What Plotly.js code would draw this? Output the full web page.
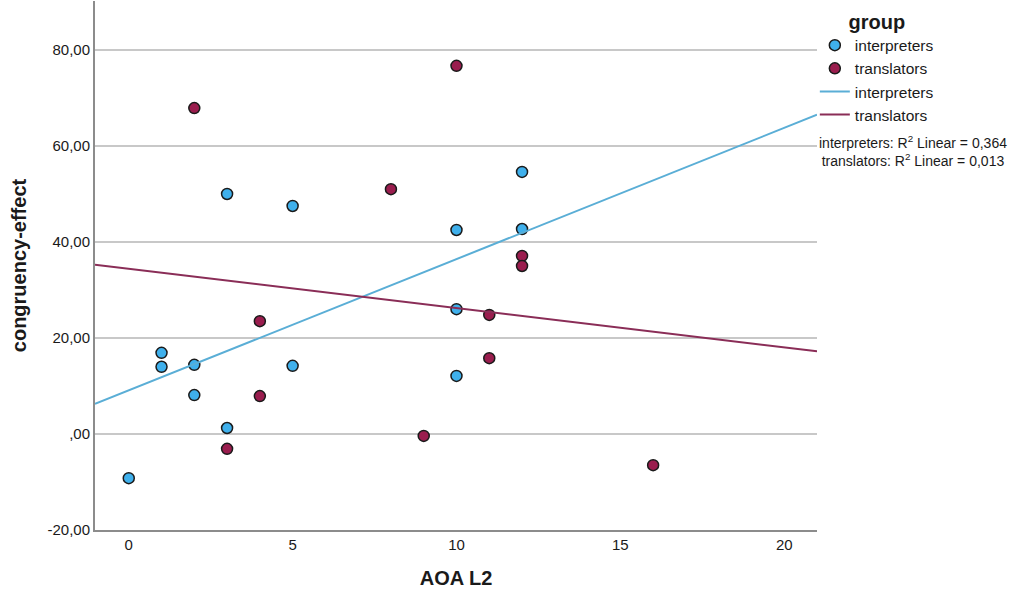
<!DOCTYPE html>
<html>
<head>
<meta charset="utf-8">
<script src="https://cdn.plot.ly/plotly-3.0.1.min.js"></script>
<style>
  html, body { margin: 0; padding: 0; background: #fff; }
  #chart { width: 1013px; height: 603px; }
</style>
</head>
<body>
<div id="chart"></div>
<script>
// AOA L2 vs congruency-effect
var interpX = [0, 1, 1, 2, 2, 3, 3, 5, 5, 10, 10, 10, 12, 12];
var interpY = [-9.2, 16.9, 14.0, 14.4, 8.1, 1.25, 50.0, 47.5, 14.2, 42.5, 26.0, 12.1, 54.6, 42.7];

var transX = [2, 3, 4, 4, 8, 9, 10, 11, 11, 12, 12, 16];
var transY = [67.9, -3.1, 23.5, 7.9, 51.0, -0.4, 76.7, 24.8, 15.8, 37.1, 35.0, -6.5];

var yTickVals = [-20, 0, 20, 40, 60, 80];
var yTickText = ["-20,00", ",00", "20,00", "40,00", "60,00", "80,00"];
var xTickVals = [0, 5, 10, 15, 20];

var groupNames = ["interpreters", "translators"];
var r2Text = ["0,364", "0,013"];

var xRange = [-1.03, 21.0];
var yRange = [-20, 90.2];

// least squares fit, evaluated at the axis ends
function linFit(xs, ys){
    var n = xs.length, mx = 0, my = 0;
    for (let i = 0; i < n; i++){ mx += xs[i]; my += ys[i]; }
    mx /= n; my /= n;
    var sxy = 0, sxx = 0;
    for (let i = 0; i < n; i++){
        sxy += (xs[i] - mx) * (ys[i] - my);
        sxx += (xs[i] - mx) * (xs[i] - mx);
    }
    var b = sxy / sxx;
    var a = my - b * mx;
    return {x: xRange, y: [a + b * xRange[0], a + b * xRange[1]]};
}

var fitI = linFit(interpX, interpY);
var fitT = linFit(transX, transY);

var blue = "#3fb0ec";
var red = "#9a1d4e";

var data = [
    {
        type: "scatter", mode: "markers", name: groupNames[0],
        x: interpX, y: interpY, cliponaxis: false,
        marker: {color: blue, size: 11, line: {color: "#1a1a1a", width: 1.5}}
    },
    {
        type: "scatter", mode: "markers", name: groupNames[1],
        x: transX, y: transY, cliponaxis: false,
        marker: {color: red, size: 11, line: {color: "#1a1a1a", width: 1.5}}
    },
    {
        type: "scatter", mode: "lines", name: groupNames[0],
        x: fitI.x, y: fitI.y,
        line: {color: "#5aaed6", width: 2}
    },
    {
        type: "scatter", mode: "lines", name: groupNames[1],
        x: fitT.x, y: fitT.y,
        line: {color: "#8a2d57", width: 2}
    }
];

var layout = {
    width: 1013,
    height: 603,
    margin: {l: 95, r: 196, t: 1, b: 73},
    paper_bgcolor: "#ffffff",
    plot_bgcolor: "#ffffff",
    font: {family: "Liberation Sans, Arial, sans-serif", color: "#1a1a1a", size: 15},
    showlegend: true,
    legend: {
        x: 0.997, xanchor: "left",
        y: 0.997, yanchor: "top",
        bgcolor: "rgba(0,0,0,0)",
        font: {size: 15.5, color: "#1a1a1a"},
        tracegroupgap: 0,
        title: {text: "<b>group</b>", side: "top center", font: {size: 20, color: "#1a1a1a"}}
    },
    xaxis: {
        range: xRange,
        tickvals: xTickVals,
        ticks: "",
        showgrid: false,
        zeroline: false,
        showline: true,
        linecolor: "#8c8c8c",
        linewidth: 2,
        tickfont: {size: 15},
        title: {text: "<b>AOA L2</b>", font: {size: 20}, standoff: 19}
    },
    yaxis: {
        range: yRange,
        tickvals: yTickVals,
        ticktext: yTickText,
        ticks: "",
        showgrid: true,
        gridcolor: "#c8c8c8",
        gridwidth: 2,
        zeroline: false,
        showline: true,
        linecolor: "#8c8c8c",
        linewidth: 2,
        tickfont: {size: 15},
        title: {text: "<b>congruency-effect</b>", font: {size: 20}, standoff: 15}
    },
    annotations: [
        {
            xref: "paper", yref: "paper",
            x: 1.133, y: 0.716, xanchor: "center", yanchor: "middle",
            showarrow: false, align: "center",
            font: {size: 14, color: "#1a1a1a"},
            text: groupNames[0] + ": R<sup>2</sup> Linear = " + r2Text[0] + "<br>" +
                  groupNames[1] + ": R<sup>2</sup> Linear = " + r2Text[1]
        }
    ]
};

Plotly.newPlot("chart", data, layout, {displayModeBar: false, staticPlot: true});
</script>
</body>
</html>
